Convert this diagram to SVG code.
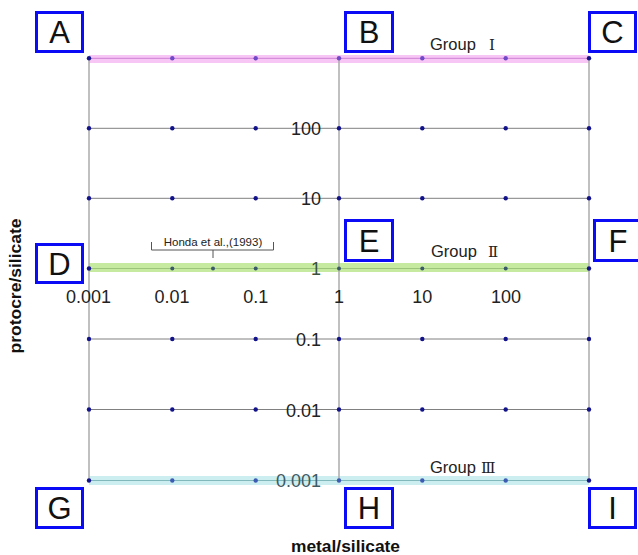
<svg xmlns="http://www.w3.org/2000/svg" width="638" height="555" viewBox="0 0 638 555">
<style>
.box{fill:#fff;stroke:#0b0bf5;stroke-width:3}
.lt{font-family:"Liberation Sans",Arial,sans-serif;font-size:31px;fill:#111;text-anchor:middle}
.num{font-family:"Liberation Sans",Arial,sans-serif;font-size:18px;fill:#222}
.grp{font-family:"Liberation Sans","Noto Sans CJK JP",sans-serif;font-size:16.5px;fill:#222}
.rn{font-family:"DejaVu Serif","Liberation Serif","Noto Sans CJK JP",serif;font-size:15px}
.hl{stroke:#808080;stroke-width:1}
.vl{stroke:#ababab;stroke-width:1.5}
.dot{fill:#12128a}
.ax{font-family:"Liberation Sans",Arial,sans-serif;font-size:16px;font-weight:bold;fill:#111;text-anchor:middle}
</style>
<rect width="638" height="555" fill="#fff"/>
<g id="bands">
<rect x="89" y="55" width="500" height="8" fill="#f8c6f4"/>
<rect x="89" y="263" width="500" height="9" fill="#c6eaa0"/>
<rect x="89" y="476" width="500" height="9" fill="#cdeef0"/>
</g>
<g id="connectors">
<line class="vl" x1="89" y1="58" x2="89" y2="480.5"/>
<line class="vl" x1="339" y1="58" x2="339" y2="480.5"/>
<line class="vl" x1="589" y1="58" x2="589" y2="480.5"/>
<line x1="89" y1="58.3" x2="589" y2="58.3" stroke="#cc80d4" stroke-width="1"/>
<line class="hl" x1="89" y1="128.3" x2="589" y2="128.3"/>
<line class="hl" x1="89" y1="198.3" x2="589" y2="198.3"/>
<line x1="89" y1="268.5" x2="589" y2="268.5" stroke="#9cc47a" stroke-width="1"/>
<line class="hl" x1="89" y1="339" x2="589" y2="339"/>
<line class="hl" x1="89" y1="409.5" x2="589" y2="409.5"/>
<line x1="89" y1="480.5" x2="589" y2="480.5" stroke="#80b8bc" stroke-width="1"/>
</g>
<g id="dots">
<g fill="#7048c8">
<circle cx="89" cy="58.3" r="2.2" fill="#12128a"/><circle cx="172.3" cy="58.3" r="2.2"/><circle cx="255.7" cy="58.3" r="2.2"/><circle cx="339" cy="58.3" r="2.2"/><circle cx="422.3" cy="58.3" r="2.2"/><circle cx="505.7" cy="58.3" r="2.2"/><circle cx="589" cy="58.3" r="2.2" fill="#12128a"/>
</g>
<g class="dot">
<circle cx="89" cy="128.3" r="2.2"/><circle cx="172.3" cy="128.3" r="2.2"/><circle cx="255.7" cy="128.3" r="2.2"/><circle cx="339" cy="128.3" r="2.2"/><circle cx="422.3" cy="128.3" r="2.2"/><circle cx="505.7" cy="128.3" r="2.2"/><circle cx="589" cy="128.3" r="2.2"/>
<circle cx="89" cy="198.3" r="2.2"/><circle cx="172.3" cy="198.3" r="2.2"/><circle cx="255.7" cy="198.3" r="2.2"/><circle cx="339" cy="198.3" r="2.2"/><circle cx="422.3" cy="198.3" r="2.2"/><circle cx="505.7" cy="198.3" r="2.2"/><circle cx="589" cy="198.3" r="2.2"/>
<circle cx="89" cy="339" r="2.2"/><circle cx="172.3" cy="339" r="2.2"/><circle cx="255.7" cy="339" r="2.2"/><circle cx="339" cy="339" r="2.2"/><circle cx="422.3" cy="339" r="2.2"/><circle cx="505.7" cy="339" r="2.2"/><circle cx="589" cy="339" r="2.2"/>
<circle cx="89" cy="409.5" r="2.2"/><circle cx="172.3" cy="409.5" r="2.2"/><circle cx="255.7" cy="409.5" r="2.2"/><circle cx="339" cy="409.5" r="2.2"/><circle cx="422.3" cy="409.5" r="2.2"/><circle cx="505.7" cy="409.5" r="2.2"/><circle cx="589" cy="409.5" r="2.2"/>
</g>
<g fill="#3a5a6a">
<circle cx="89" cy="268.5" r="2.2" fill="#12128a"/><circle cx="172.3" cy="268.5" r="2"/><circle cx="213" cy="268.5" r="2"/><circle cx="255.7" cy="268.5" r="2"/><circle cx="339" cy="268.5" r="2"/><circle cx="422.3" cy="268.5" r="2"/><circle cx="505.7" cy="268.5" r="2"/><circle cx="589" cy="268.5" r="2.2" fill="#12128a"/>
</g>
<g fill="#3c5cb4">
<circle cx="89" cy="480.5" r="2.2" fill="#12128a"/><circle cx="172.3" cy="480.5" r="2.2"/><circle cx="255.7" cy="480.5" r="2.2"/><circle cx="339" cy="480.5" r="2.2"/><circle cx="422.3" cy="480.5" r="2.2"/><circle cx="505.7" cy="480.5" r="2.2"/><circle cx="589" cy="480.5" r="2.2" fill="#12128a"/>
</g>
</g>
<g id="y-values" class="num" text-anchor="end">
<text x="321" y="135">100</text>
<text x="321" y="205">10</text>
<text x="321" y="275" fill="#3c5040">1</text>
<text x="321" y="346">0.1</text>
<text x="321" y="417">0.01</text>
<text x="321" y="487" fill="#3f5a62">0.001</text>
</g>
<g id="x-values" class="num" text-anchor="middle">
<text x="88.5" y="303">0.001</text>
<text x="172" y="303">0.01</text>
<text x="255.7" y="303">0.1</text>
<text x="339" y="303">1</text>
<text x="422.3" y="303">10</text>
<text x="506" y="303">100</text>
</g>
<g id="groups" class="grp">
<text x="430" y="50">Group <tspan class="rn" x="489">Ⅰ</tspan></text>
<text x="431" y="257">Group <tspan class="rn" x="488">Ⅱ</tspan></text>
<text x="430" y="473">Group <tspan class="rn" x="481">Ⅲ</tspan></text>
</g>
<g id="honda">
<path d="M151.5,242 V250 H273.5 V242 M213,250 V258" fill="none" stroke="#555" stroke-width="1"/>
<text x="213" y="246" font-family="Liberation Sans,Arial,sans-serif" font-size="11.5" fill="#222" text-anchor="middle">Honda et al.,(1993)</text>
</g>
<g id="node-A"><rect class="box" x="36.5" y="12.5" width="46" height="39"/><text class="lt" x="59.5" y="43">A</text></g>
<g id="node-B"><rect class="box" x="345.5" y="12.5" width="47" height="39"/><text class="lt" x="369" y="43">B</text></g>
<g id="node-C"><rect class="box" x="589.5" y="12.5" width="46" height="39"/><text class="lt" x="612.5" y="43">C</text></g>
<g id="node-D"><rect class="box" x="36.5" y="244.5" width="46" height="38"/><text class="lt" x="59.5" y="275">D</text></g>
<g id="node-E"><rect class="box" x="345.5" y="220.5" width="47" height="40"/><text class="lt" x="369" y="252">E</text></g>
<g id="node-F"><rect class="box" x="594.5" y="220.5" width="47" height="40"/><text class="lt" x="618" y="252">F</text></g>
<g id="node-G"><rect class="box" x="36.5" y="488.5" width="46" height="39"/><text class="lt" x="59.5" y="519">G</text></g>
<g id="node-H"><rect class="box" x="345.5" y="488.5" width="47" height="39"/><text class="lt" x="369" y="519">H</text></g>
<g id="node-I"><rect class="box" x="589.5" y="488.5" width="46" height="39"/><text class="lt" x="612.5" y="519">I</text></g>
<g id="axis-titles">
<text class="ax" x="345.5" y="552" textLength="109" lengthAdjust="spacingAndGlyphs">metal/silicate</text>
<text class="ax" transform="translate(21,286) rotate(-90)" x="0" y="0" textLength="135" lengthAdjust="spacingAndGlyphs">protocre/silicate</text>
</g>
</svg>
